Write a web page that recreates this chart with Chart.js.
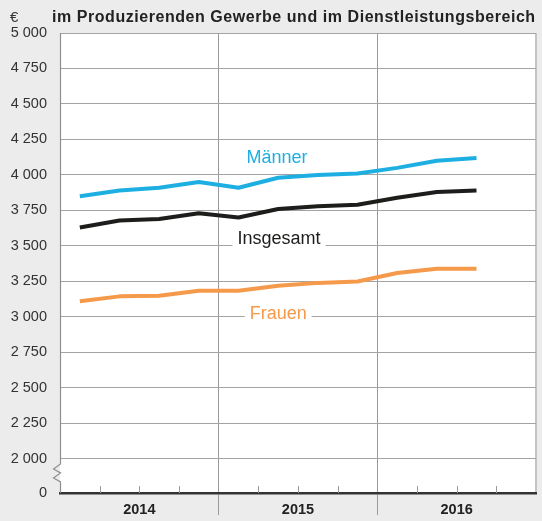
<!DOCTYPE html>
<html lang="de">
<head>
<meta charset="utf-8">
<title>Bruttomonatsverdienste</title>
<script src="https://cdn.jsdelivr.net/npm/chart.js@4/dist/chart.umd.min.js"></script>
<style>
  html, body { margin: 0; padding: 0; background: #ececec; }
  #wrap { width: 542px; height: 521px; position: relative; }
</style>
</head>
<body>
<div id="wrap"><canvas id="chart" width="542" height="521"></canvas></div>
<script>
// Quarterly values, I/2014 to III/2016 (Euro)
const quarters = ['I/2014','II/2014','III/2014','IV/2014','I/2015','II/2015','III/2015','IV/2015','I/2016','II/2016','III/2016'];
const maenner   = [3850, 3890, 3910, 3950, 3910, 3980, 4000, 4010, 4050, 4100, 4120];
const insgesamt = [3630, 3680, 3690, 3730, 3700, 3760, 3780, 3790, 3840, 3880, 3890];
const frauen    = [3110, 3145, 3150, 3185, 3185, 3220, 3240, 3250, 3310, 3340, 3340];
const years = ['2014', '2015', '2016'];
const yTickValues = [2000, 2250, 2500, 2750, 3000, 3250, 3500, 3750, 4000, 4250, 4500, 4750, 5000];

const seriesNames = ['Männer', 'Insgesamt', 'Frauen'];
const seriesColors = ['#1eafe2', '#1d1d1b', '#f5994b'];

// the value axis is broken below 2 000; the "0" tick sits at this scale position
const axisBase = 1760;
const quartersPerYear = 4;
const slots = years.length * quartersPerYear;

const fmt = v => String(v).replace(/\B(?=(\d{3})+$)/g, ' ');
const toPoints = arr => arr.map((v, i) => ({ x: i + 0.5, y: v }));

const FONT = '"Liberation Sans", Arial, Helvetica, sans-serif';

// background, white plot area, quarter ticks, axis break, unit and heading
const frame = {
  id: 'frame',
  beforeDraw(chart) {
    const { ctx, chartArea: a } = chart;
    ctx.save();
    ctx.fillStyle = '#ececec';
    ctx.fillRect(0, 0, chart.width, chart.height);
    ctx.fillStyle = '#ffffff';
    ctx.fillRect(a.left, a.top, a.right - a.left, a.bottom - a.top);
    ctx.restore();
  },
  afterDraw(chart) {
    const { ctx, chartArea: a, scales: { x, y } } = chart;
    ctx.save();
    // quarter ticks on the time axis
    ctx.strokeStyle = '#9a9a9a';
    ctx.lineWidth = 1;
    for (let q = 1; q < slots; q++) {
      if (q % quartersPerYear === 0) continue;
      const px = Math.round(x.getPixelForValue(q)) + 0.5;
      ctx.beginPath();
      ctx.moveTo(px, a.bottom - 7);
      ctx.lineTo(px, a.bottom);
      ctx.stroke();
    }
    // left border with zigzag break
    const lx = a.left + 0.5;
    const yb = y.getPixelForValue(2000);
    ctx.strokeStyle = '#8f8f8f';
    ctx.lineWidth = 1.2;
    ctx.beginPath();
    ctx.moveTo(lx, a.top);
    ctx.lineTo(lx, yb + 5);
    ctx.lineTo(lx - 7, yb + 10);
    ctx.lineTo(lx, yb + 14);
    ctx.lineTo(lx - 7, yb + 19);
    ctx.lineTo(lx, yb + 23);
    ctx.lineTo(lx, a.bottom);
    ctx.stroke();
    // unit and heading
    ctx.fillStyle = '#333333';
    ctx.font = '15px ' + FONT;
    ctx.textBaseline = 'alphabetic';
    ctx.textAlign = 'left';
    ctx.fillText('€', 10, 22);
    ctx.fillStyle = '#222222';
    ctx.font = 'bold 16px ' + FONT;
    const heading = 'im Produzierenden Gewerbe und im Dienstleistungsbereich';
    if ('letterSpacing' in ctx) ctx.letterSpacing = '0.55px';
    ctx.fillText(heading, 52, 22);
    ctx.restore();
  }
};

// series names written into the plot, knocking out the grid behind them
const seriesLabels = {
  id: 'seriesLabels',
  afterDatasetsDraw(chart, args, opts) {
    const { ctx, scales: { x, y } } = chart;
    ctx.save();
    ctx.font = '18px ' + FONT;
    ctx.textAlign = 'center';
    ctx.textBaseline = 'alphabetic';
    opts.items.forEach(it => {
      const cx = x.getPixelForValue(it.x);
      const by = y.getPixelForValue(it.y);
      const w = ctx.measureText(it.text).width;
      ctx.fillStyle = '#ffffff';
      ctx.fillRect(cx - w / 2 - 5, by - 15, w + 10, 20);
      ctx.fillStyle = it.color;
      ctx.fillText(it.text, cx, by);
    });
    ctx.restore();
  }
};

const datasets = [maenner, insgesamt, frauen].map((arr, i) => ({
  label: seriesNames[i],
  data: toPoints(arr),
  borderColor: seriesColors[i],
  backgroundColor: seriesColors[i],
  borderWidth: 4,
  pointRadius: 0,
  tension: 0,
  fill: false,
  borderJoinStyle: 'round'
}));

new Chart(document.getElementById('chart'), {
  type: 'line',
  data: { datasets },
  options: {
    responsive: false,
    animation: false,
    layout: { padding: { top: 33, right: 6, left: 0, bottom: 0 } },
    plugins: {
      legend: { display: false },
      tooltip: { enabled: false },
      seriesLabels: {
        items: [
          { text: seriesNames[0], color: seriesColors[0], x: 5.47, y: 4085 },
          { text: seriesNames[1], color: seriesColors[1], x: 5.52, y: 3515 },
          { text: seriesNames[2], color: seriesColors[2], x: 5.5, y: 2985 }
        ]
      }
    },
    scales: {
      x: {
        type: 'linear',
        min: 0,
        max: slots,
        afterBuildTicks: s => {
          const t = [];
          for (let v = 0; v <= slots; v += quartersPerYear / 2) t.push({ value: v });
          s.ticks = t;
        },
        afterFit: s => { s.height = 28; },
        grid: {
          drawOnChartArea: true,
          drawTicks: true,
          tickLength: 22,
          color: c => {
            const v = c.tick && c.tick.value;
            if (v === slots) return '#c4c4c4';
            if (v > 0 && v < slots && v % quartersPerYear === 0) return '#9a9a9a';
            return 'rgba(0,0,0,0)';
          },
          tickColor: c => {
            const v = c.tick && c.tick.value;
            return (v > 0 && v < slots && v % quartersPerYear === 0) ? '#9a9a9a' : 'rgba(0,0,0,0)';
          },
          lineWidth: c => (c.tick && c.tick.value === slots) ? 2 : 1
        },
        border: { display: true, color: '#333333', width: 2.5 },
        ticks: {
          autoSkip: false,
          maxRotation: 0,
          padding: -14,
          color: '#222222',
          font: { family: FONT, size: 14.5, weight: 'bold' },
          callback: v => (v % quartersPerYear === quartersPerYear / 2) ? years[(v - 2) / quartersPerYear] : ''
        }
      },
      y: {
        type: 'linear',
        min: axisBase,
        max: 5000,
        afterBuildTicks: s => {
          s.ticks = [axisBase].concat(yTickValues).map(v => ({ value: v }));
        },
        afterFit: s => { s.width = 60; },
        grid: {
          drawTicks: false,
          color: c => (c.tick && c.tick.value === axisBase) ? 'rgba(0,0,0,0)' : '#a3a3a3',
          lineWidth: 1
        },
        border: { display: false },
        ticks: {
          padding: 13,
          color: '#333333',
          font: { family: FONT, size: 14.5 },
          callback: v => v === axisBase ? '0' : fmt(v)
        }
      }
    }
  },
  plugins: [frame, seriesLabels]
});
</script>
</body>
</html>
